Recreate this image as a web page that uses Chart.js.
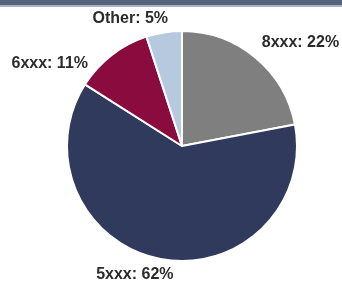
<!DOCTYPE html>
<html>
<head>
<meta charset="utf-8">
<script src="https://cdn.jsdelivr.net/npm/chart.js@4"></script>
<style>
  html, body { margin: 0; padding: 0; background: #fff; }
  #wrap { position: relative; width: 342px; height: 282px; overflow: hidden; }
  #band { position: absolute; left: 0; top: 0; width: 342px; height: 5px; background: #56647e; border-bottom: 2px solid #a9b2c6; }
  canvas { position: absolute; left: 0; top: 0; }
</style>
</head>
<body>
<div id="wrap">
  <canvas id="myChart" width="342" height="282"></canvas>
  <div id="band"></div>
</div>
<script>
const labels = ['8xxx', '5xxx', '6xxx', 'Other'];
const values = [22, 62, 11, 5];

const COLORS = ['#7f7f7f', '#303a5c', '#8a0c3e', '#b6c9de'];

// label offsets from pie centre, in radius units
const LABEL_POS = [
  { dx: 1.03, dy: -0.90 },
  { dx: -0.41, dy: 1.12 },
  { dx: -1.15, dy: -0.72 },
  { dx: -0.45, dy: -1.11 }
];

const sliceLabels = {
  id: 'sliceLabels',
  afterDraw(chart) {
    const ctx = chart.ctx;
    const arc = chart.getDatasetMeta(0).data[0];
    const r = arc.outerRadius;
    ctx.save();
    ctx.font = 'bold 16px "Liberation Sans", Arial, sans-serif';
    ctx.fillStyle = '#2b2b2b';
    ctx.textAlign = 'center';
    ctx.textBaseline = 'middle';
    labels.forEach((l, i) => {
      const p = LABEL_POS[i];
      ctx.fillText(l + ': ' + values[i] + '%', arc.x + p.dx * r, arc.y + p.dy * r);
    });
    ctx.restore();
  }
};

let ctx = document.getElementById('myChart');
let myChart = new Chart(ctx, {
  type: 'pie',
  data: {
    labels: labels,
    datasets: [{
      data: values,
      backgroundColor: COLORS,
      borderColor: '#ffffff',
      borderWidth: 2
    }]
  },
  options: {
    responsive: false,
    animation: false,
    layout: { padding: { left: 66, right: 44, top: 30, bottom: 20 } },
    plugins: {
      legend: { display: false },
      tooltip: { enabled: false }
    }
  },
  plugins: [sliceLabels]
});
</script>
</body>
</html>
